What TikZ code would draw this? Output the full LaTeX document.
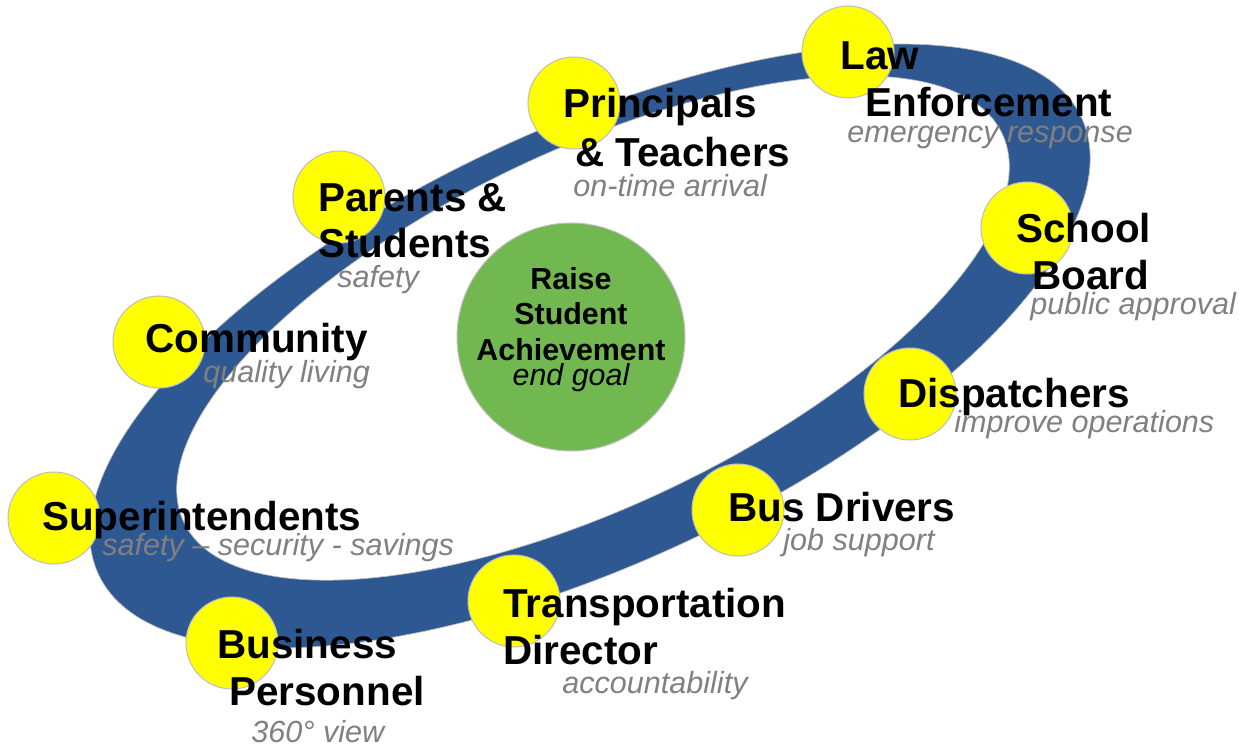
\documentclass[tikz,border=0pt]{standalone}
\usepackage{fontspec}
\setmainfont{Liberation Sans}
\usetikzlibrary{positioning}

\definecolor{ringblue}{RGB}{46,88,146}
\definecolor{hubyellow}{RGB}{255,255,0}
\definecolor{goalgreen}{RGB}{113,184,80}
\definecolor{mottogray}{RGB}{128,128,128}
\definecolor{rimgray}{RGB}{190,190,190}

\begin{document}
\begin{tikzpicture}[x=0.02cm, y=-0.02cm,
    hub/.style={circle, fill=hubyellow, draw=rimgray, line width=0.6pt, minimum size=1.84cm, inner sep=0pt},
    goal/.style={circle, fill=goalgreen, draw=rimgray, line width=0.6pt, minimum size=4.56cm, inner sep=0pt},
    role/.style={anchor=base west, inner sep=0pt, font=\bfseries\fontsize{23}{27}\selectfont},
    motto/.style={anchor=base west, inner sep=0pt, text=mottogray, font=\itshape\fontsize{17.4}{20}\selectfont},
    goaltext/.style={anchor=base, inner sep=0pt, font=\bfseries\fontsize{17.3}{20}\selectfont}]
    \useasboundingbox (0,0) rectangle (1250,749);

    % the ring
    \filldraw[fill=ringblue, draw=rimgray, line width=0.4pt, even odd rule]
        (590,346) ellipse[x radius=542, y radius=218, rotate=24.9]
        (593,328) ellipse[x radius=453, y radius=178, rotate=25.4];

    % stops on the ring
    \node[hub] (law) at (848,52) {};
    \node[hub] (principals) at (574,103) {};
    \node[hub] (parents) at (339,197) {};
    \node[hub] (community) at (159,342) {};
    \node[hub] (supers) at (54,518) {};
    \node[hub] (business) at (232,643) {};
    \node[hub] (transport) at (514,601) {};
    \node[hub] (drivers) at (738,510) {};
    \node[hub] (dispatch) at (910,394) {};
    \node[hub] (board) at (1027,228) {};

    % centre
    \node[goal] (goal) at (571,337) {};
    \node[goaltext] (goal1) at (571,290) {Raise};
    \node[goaltext] (goal2) at (571,325) {Student};
    \node[goaltext] (goal3) at (571,361) {Achievement};
    \node[goaltext, font=\itshape\fontsize{17.3}{20}\selectfont] (goal4) at (571,386) {end goal};

    % labels
    \node[role] (law1) at (840,70) {Law};
    \node[role] (law2) at (865,117) {Enforcement};
    \node[motto] (lawm) at (847,143) {emergency response};

    \node[role] (principals1) at (563,118) {Principals};
    \node[role] (principals2) at (575,167) {\& Teachers};
    \node[motto] (principalsm) at (573,197) {on-time arrival};

    \node[role] (parents1) at (318,212) {Parents \&};
    \node[role] (parents2) at (318,258) {Students};
    \node[motto] (parentsm) at (337,288) {safety};

    \node[role] (community1) at (145,353) {Community};
    \node[motto] (communitym) at (203,383) {quality living};

    \node[role] (supers1) at (42,530) {Superintendents};
    \node[motto] (supersm) at (102,555) {safety -- security - savings};

    \node[role] (business1) at (217,658) {Business};
    \node[role] (business2) at (229,705) {Personnel};
    \node[motto] (businessm) at (251,742) {360° view};

    \node[role] (transport1) at (503,617) {Transportation};
    \node[role] (transport2) at (503,664) {Director};
    \node[motto] (transportm) at (562,693) {accountability};

    \node[role] (drivers1) at (728,521) {Bus Drivers};
    \node[motto] (driversm) at (783,550) {job support};

    \node[role] (dispatch1) at (898,408) {Dispatchers};
    \node[motto] (dispatchm) at (954,433) {improve operations};

    \node[role] (board1) at (1016,243) {School};
    \node[role] (board2) at (1032,290) {Board};
    \node[motto] (boardm) at (1030,315) {public approval};
\end{tikzpicture}
\end{document}
